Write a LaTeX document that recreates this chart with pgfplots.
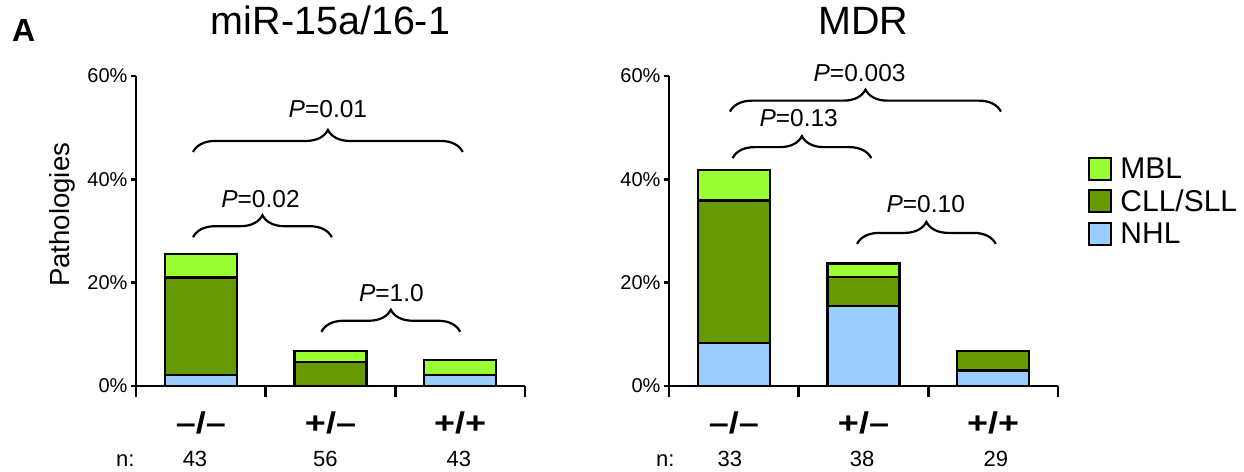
\documentclass[border=0pt]{standalone}
\usepackage{fontspec}
\setmainfont{Liberation Sans}
\usepackage{graphicx}
\usepackage{pgfplots}
\pgfplotsset{compat=1.18}
\usetikzlibrary{decorations.pathreplacing}
\definecolor{mbl}{RGB}{153,255,51}
\definecolor{cll}{RGB}{102,153,0}
\definecolor{nhl}{RGB}{153,204,255}
\newcommand\fs[1]{\fontsize{#1}{#1}\selectfont}
\newcommand\cat[1]{\scalebox{1.2}[1]{#1}}
\tikzset{
  brace/.style={decorate, decoration={brace, amplitude=22pt}, line width=2.2pt},
  plab/.style={anchor=base, font=\fs{24.5}},
  nlab/.style={anchor=base, font=\fs{22}, yshift=-80pt},
  barst/.style={draw=black, line width=2.2pt},
}
\pgfplotsset{panel/.style={
  scale only axis, width=389pt, height=310pt,
  xmin=0.5, xmax=3.5, ymin=0, ymax=60,
  axis x line*=bottom, axis y line*=left,
  axis line style={-, line width=2.4pt, black},
  ybar stacked, bar width=72pt,
  ytick={0,20,40,60}, yticklabels={0\%,20\%,40\%,60\%},
  yticklabel style={font=\fs{20}},
  xtick={1,2,3}, xticklabels={\cat{–/–},\cat{+/–},\cat{+/+}},
  xticklabel style={font=\bfseries\fs{30}, anchor=base, yshift=-42pt},
  tick align=outside, major tick length=5pt,
  tick style={line width=2.4pt, black},
  xtick style={draw=none},
  extra x ticks={0.5,1.5,2.5,3.5}, extra x tick labels={},
  extra x tick style={major tick length=11pt, xtick style={draw=black}},
  clip=false,
  title style={font=\fs{39.5}, at={(axis description cs:0.5,1)}, anchor=base, yshift=35pt},
}}
\begin{document}
\begin{tikzpicture}
\useasboundingbox (0,0) rectangle (1244pt,471pt);
\node[anchor=base west, inner sep=0pt] at (12pt,429pt) {\fs{32}\bfseries A};
% ---------- left panel ----------
\begin{axis}[panel, at={(136pt,85pt)}, anchor=south west,
  title={miR-15a/16-1},
  ylabel={Pathologies},
  ylabel style={font=\fs{27.6}, at={(axis description cs:-0.19,0.552)}, anchor=center}]
\addplot[barst, fill=nhl] coordinates {(1,2.2) (2,0) (3,2.2)};
\addplot[barst, fill=cll] coordinates {(1,18.8) (2,4.7) (3,0)};
\addplot[barst, fill=mbl] coordinates {(1,4.6) (2,2.0) (3,2.9)};
\draw[brace] (axis cs:0.94,45.3) -- (axis cs:3.02,45.3);
\node[plab] at (axis cs:1.98,51.9) {\textit{P}=0.01};
\draw[brace] (axis cs:0.94,28.8) -- (axis cs:2.01,28.8);
\node[plab] at (axis cs:1.46,34.6) {\textit{P}=0.02};
\draw[brace] (axis cs:1.93,10.5) -- (axis cs:3.0,10.5);
\node[plab] at (axis cs:2.47,16.3) {\textit{P}=1.0};
\node[nlab, anchor=base east] at (axis cs:0.515,0) {n:};
\node[nlab] at (axis cs:0.955,0) {43};
\node[nlab] at (axis cs:1.96,0) {56};
\node[nlab] at (axis cs:2.99,0) {43};
\end{axis}
% ---------- right panel ----------
\begin{axis}[panel, at={(669pt,85pt)}, anchor=south west,
  title={MDR},
  reverse legend,
  legend image code/.code={\draw[#1, line width=2pt] (0pt,-11pt) rectangle (22pt,11pt);},
  legend style={draw=none, fill=none, at={(rel axis cs:1.07,0.75)}, anchor=north west,
    font=\fs{30}, row sep=6pt, cells={anchor=west},
    nodes={inner xsep=8pt}}]
\addplot[barst, fill=nhl] coordinates {(1,8.4) (2,15.5) (3,3.0)};
\addplot[barst, fill=cll] coordinates {(1,27.5) (2,5.6) (3,3.7)};
\addplot[barst, fill=mbl] coordinates {(1,5.9) (2,2.6) (3,0)};
\legend{NHL,CLL/SLL,MBL}
\draw[brace] (axis cs:0.97,53.1) -- (axis cs:3.06,53.1);
\node[plab] at (axis cs:1.97,58.9) {\textit{P}=0.003};
\draw[brace] (axis cs:0.99,44.1) -- (axis cs:2.06,44.1);
\node[plab] at (axis cs:1.5,50.2) {\textit{P}=0.13};
\draw[brace] (axis cs:1.95,27.5) -- (axis cs:3.02,27.5);
\node[plab] at (axis cs:2.48,33.5) {\textit{P}=0.10};
\node[nlab, anchor=base east] at (axis cs:0.57,0) {n:};
\node[nlab] at (axis cs:0.97,0) {33};
\node[nlab] at (axis cs:1.99,0) {38};
\node[nlab] at (axis cs:3.02,0) {29};
\end{axis}
\end{tikzpicture}
\end{document}
